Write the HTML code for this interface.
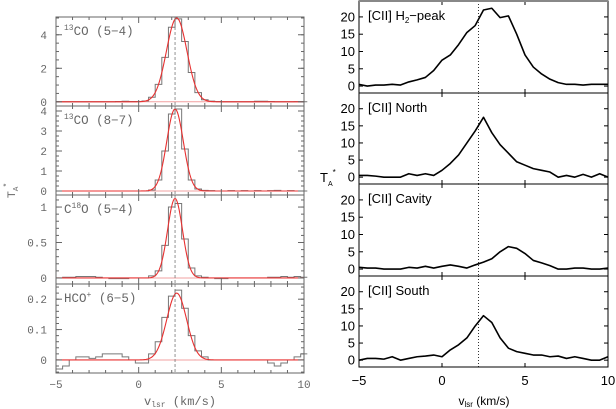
<!DOCTYPE html>
<html><head><meta charset="utf-8"><style>
body{margin:0;background:#fff}
svg{display:block}
text{font-family:"Liberation Sans",sans-serif}
.mono{font-family:"Liberation Mono",monospace}
</style></head><body>
<svg id="c" width="616" height="409" viewBox="0 0 616 409" xmlns="http://www.w3.org/2000/svg"></svg>
<script>
// Left panel data: histogram bins (centers -4.8 + 0.4*i)
const binStart = -5.0, binWidth = 0.4;
const co54 = [0,0,0,0,0,0,0,0,0,0.02,0.03,0.02,0.02,0.05,0.27,1.04,2.65,4.45,4.95,3.6,1.75,0.55,0.12,0.04,0.02,0,0,0,0,0,0.03,0.03,0.02,0,0,0,0.01,0];
const co87 = [0,0,0,0,0,0,0,0,0,0,0,0,0,0,0.05,0.55,2.0,3.85,4.1,2.1,0.55,0.1,0.03,0.02,0,0,0.02,0,0.02,0,0.02,0,0.02,0.03,0,0.02,0,0];
const c18o = [0.0,0.01,0.01,0.02,0.02,0.02,0.01,0,-0.01,-0.01,-0.01,0,0,0,0.03,0.1,0.46,1.0,1.05,0.55,0.14,0.03,0.01,0,-0.01,-0.01,0,0,0,0,0,0,0.01,0.01,0.02,0.01,0.02,0.01];
const hco = [-0.03,-0.02,0,0.01,0.01,0.005,0.01,0.02,0.02,0.02,0.01,0,-0.01,-0.01,0.02,0.06,0.14,0.21,0.23,0.17,0.08,0.03,0.01,0,0,0,0,0,0,0,0,0,-0.01,-0.02,-0.01,0,0.01,0.02];
// Gaussian fit parameters: [amp, centre, sigma]
const fitParams = [[5.0,2.3,0.62],[4.1,2.2,0.5],[1.12,2.2,0.45],[0.22,2.3,0.6]];
const leftLabels = ["CO (5\u22124)","CO (8\u22127)","O (5\u22124)","HCO (6\u22125)"];
const leftYRanges = [[-0.25,5.06],[-0.2,4.25],[-0.085,1.17],[-0.043,0.25]];
const leftYTicks = [[0,2,4],[0,1,2,3,4],[0,0.5,1],[0,0.1,0.2]];
const leftYMinor = [0.5,0.25,0.1,0.02];
// Right panel [CII] spectra sampled every 0.5 km/s from -5 to 10
const ciiStart = -5, ciiStep = 0.5;
const ciiH2 = [0.5,0,0.3,0.3,0.5,0.3,1.2,1.8,2.5,4.5,7.5,9,12,15.5,17.5,22,22.5,19.8,20.3,15,9,5.5,3.5,2,1,0.5,0.5,0.3,0.5,0.5,0.5];
const ciiNorth = [0.5,0.5,0.3,0,0,0,1,0.5,1,0.5,2,4,6.5,10,13.5,17.5,13,9.5,7,4.5,3.5,2.5,2,1.5,0,0.5,0,0.8,0,1,0];
const ciiCavity = [0.5,0.3,0.3,0,0,0,0.5,0.3,0.8,0.3,0.8,1.2,0.8,0.3,1.2,2,3,5,6.5,6,4.5,2.5,1.8,1,0,0,0.3,0.3,0,0,0.3];
const ciiSouth = [0,0.5,0.5,0.3,1,0,0.5,1,1.2,1.5,1,3,4.5,6.5,10,13,11,6.5,3.5,2.5,2,1.5,1.5,1,1.2,0.5,1,0.5,0,0,1];
const ciiLabels = ["H","North","Cavity","South"];
const rightYTicks = [0,5,10,15,20];
const xTicks = [-5,0,5,10];
const vRef = 2.2;

const svg=document.getElementById('c');
const NS="http://www.w3.org/2000/svg";
function mk(tag,attrs,parent){const e=document.createElementNS(NS,tag);for(const k in attrs)e.setAttribute(k,attrs[k]);(parent||svg).appendChild(e);return e;}

// LEFT
const LX0=56,LX1=304;
const lx=v=>LX0+(v+5)/15*(LX1-LX0);
const lTops=[17,106,195,284],lBots=[106,195,284,373];
const leftData=[co54,co87,c18o,hco];
for(let p=0;p<4;p++){
  const g=mk('g',{});
  
  
  const [y0,y1]=leftYRanges[p],T=lTops[p],B=lBots[p];
  const ly=v=>B-(v-y0)/(y1-y0)*(B-T);
  mk('line',{x1:LX0,x2:LX1,y1:ly(0),y2:ly(0),stroke:'#f2a0a0','stroke-width':1},g);
  let d='';const arr=leftData[p];
  for(let i=0;i<arr.length;i++){const xa=lx(binStart+i*binWidth),xb=lx(binStart+(i+1)*binWidth),y=ly(arr[i]);d+=(i==0?'M':'L')+xa+','+y+'L'+xb+','+y;}
  const h=mk('path',{d:d,fill:'none',stroke:'#777','stroke-width':1},g);
  
  
  const [a,c,s]=fitParams[p];let fd='';
  for(let v=-5;v<=10.001;v+=0.05){fd+=(v==-5?'M':'L')+lx(v)+','+ly(a*Math.exp(-(v-c)*(v-c)/(2*s*s)));}
  const f=mk('path',{d:fd,fill:'none',stroke:'#e83030','stroke-width':1.1},g);
  
  
  mk('line',{x1:lx(vRef),x2:lx(vRef),y1:T,y2:B,stroke:'#777','stroke-dasharray':'3,2','stroke-width':0.8},g);
  mk('rect',{x:LX0,y:T,width:LX1-LX0,height:B-T,fill:'none',stroke:'#666','stroke-width':1},g);
  for(let v=-5;v<=10;v++){const big=v%5==0?6:3;mk('line',{x1:lx(v),x2:lx(v),y1:B,y2:B-big,stroke:'#666'},g);mk('line',{x1:lx(v),x2:lx(v),y1:T,y2:T+big,stroke:'#666'},g);}
  for(let v=Math.ceil(y0/leftYMinor[p])*leftYMinor[p];v<=y1;v+=leftYMinor[p]){const y=ly(v);mk('line',{x1:LX0,x2:LX0+3,y1:y,y2:y,stroke:'#666'},g);mk('line',{x1:LX1,x2:LX1-3,y1:y,y2:y,stroke:'#666'},g);}
  leftYTicks[p].forEach(v=>{const y=ly(v);mk('line',{x1:LX0,x2:LX0+6,y1:y,y2:y,stroke:'#666'},g);mk('line',{x1:LX1,x2:LX1-6,y1:y,y2:y,stroke:'#666'},g);
    const t=mk('text',{x:47,y:y+4,'text-anchor':'end','font-size':11,fill:'#666','class':'mono'},g);t.textContent=String(v);});
  const lt=mk('text',{x:64,y:T+18,'font-size':12.5,fill:'#666','class':'mono'},g);
  
  
  if(p==0||p==1){const s1=mk('tspan',{'font-size':8,dy:-5},lt);s1.textContent='13';const s2=mk('tspan',{dy:5},lt);s2.textContent=leftLabels[p];}
  else if(p==2){const s0=mk('tspan',{},lt);s0.textContent='C';const s1=mk('tspan',{'font-size':8,dy:-5},lt);s1.textContent='18';const s2=mk('tspan',{dy:5},lt);s2.textContent=leftLabels[p];}
  else {const s0=mk('tspan',{},lt);s0.textContent='HCO';const s1=mk('tspan',{'font-size':8,dy:-5},lt);s1.textContent='+';const s2=mk('tspan',{dy:5},lt);s2.textContent=' (6\u22125)';}
}
xTicks.forEach(v=>{const t=mk('text',{x:lx(v),y:388,'text-anchor':'middle','font-size':11,fill:'#666','class':'mono'});t.textContent=(v<0?'\u2212'+(-v):String(v));});
const lxl=mk('text',{x:180,y:405,'text-anchor':'middle','font-size':12,fill:'#666','class':'mono'});


lxl.innerHTML='v<tspan font-size="8" dy="2">lsr</tspan><tspan dy="-2"> (km/s)</tspan>';
const lyl=mk('text',{transform:'translate(15,198) rotate(-90)','font-size':11,fill:'#666'});


lyl.innerHTML='T<tspan font-size="7" dy="3">A</tspan><tspan font-size="8" dy="-9">*</tspan>';

// RIGHT
const RX0=359,RX1=608;
const rx=v=>RX0+(v+5)/15*(RX1-RX0);
const rTops=[1,93,184,276],rBots=[93,184,276,367];
const ciiData=[ciiH2,ciiNorth,ciiCavity,ciiSouth];
for(let p=0;p<4;p++){
  const g=mk('g',{});
  
  
  const T=rTops[p],B=rBots[p];
  const ry=v=>B-(v+2)/26.6*(B-T);
  mk('line',{x1:rx(vRef),x2:rx(vRef),y1:T,y2:B,stroke:'#000','stroke-dasharray':'1,2','stroke-width':0.8},g);
  let d='';const arr=ciiData[p];
  for(let i=0;i<arr.length;i++){d+=(i==0?'M':'L')+rx(ciiStart+i*ciiStep)+','+ry(arr[i]);}
  const l=mk('path',{d:d,fill:'none',stroke:'#000','stroke-width':1.6,'stroke-linejoin':'round'},g);
  
  
  mk('rect',{x:RX0,y:T,width:RX1-RX0,height:B-T,fill:'none',stroke:'#000','stroke-width':1},g);
  rightYTicks.forEach(v=>{const y=ry(v);mk('line',{x1:RX0,x2:RX0+4,y1:y,y2:y,stroke:'#000'},g);mk('line',{x1:RX1,x2:RX1-4,y1:y,y2:y,stroke:'#000'},g);
    const t=mk('text',{x:355,y:y+4.5,'text-anchor':'end','font-size':13,fill:'#000'},g);t.textContent=String(v);});
  xTicks.forEach(v=>{mk('line',{x1:rx(v),x2:rx(v),y1:B,y2:B-4,stroke:'#000'},g);mk('line',{x1:rx(v),x2:rx(v),y1:T,y2:T+4,stroke:'#000'},g);});
  const lt=mk('text',{x:368,y:T+19,'font-size':13,fill:'#000'},g);
  
  
  if(p==0) lt.innerHTML='[CII] H<tspan font-size="8" dy="3">2</tspan><tspan dy="-3">\u2212peak</tspan>';
  else lt.textContent='[CII] '+ciiLabels[p];
}
mk('line',{x1:RX0,x2:RX1,y1:1,y2:1,stroke:'#888','stroke-width':2});
xTicks.forEach(v=>{const t=mk('text',{x:rx(v),y:385,'text-anchor':'middle','font-size':13,fill:'#000'});t.textContent=(v<0?'\u2212'+(-v):String(v));});
const rxl=mk('text',{x:484,y:405,'text-anchor':'middle','font-size':12,fill:'#000'});


rxl.innerHTML='v<tspan font-size="8" dy="2">lsr</tspan><tspan dy="-2"> (km/s)</tspan>';
const ryl=mk('text',{x:320,y:182,'font-size':13,fill:'#000'});


ryl.innerHTML='T<tspan font-size="7" dy="4">A</tspan><tspan font-size="8" dy="-11">*</tspan>';
</script>
</body></html>
